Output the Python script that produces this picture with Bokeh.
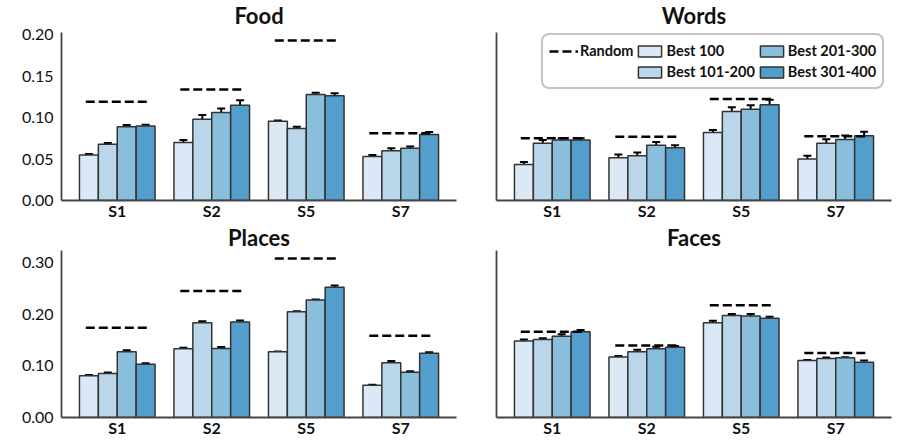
from bokeh.plotting import figure
from bokeh.layouts import column, row
from bokeh.models import (ColumnDataSource, FixedTicker, NumeralTickFormatter, Range1d,
                          Whisker, TeeHead, Legend, LegendItem, Label)
from bokeh.embed import file_html
from bokeh.resources import INLINE

subjects = ["S1", "S2", "S5", "S7"]
groups = ["Best 100", "Best 101-200", "Best 201-300", "Best 301-400"]
colors = ["#dbe9f6", "#bad6eb", "#89bedc", "#539ecd"]

food_random = [0.119, 0.134, 0.193, 0.081]
food_vals = [[0.055, 0.070, 0.0955, 0.053],
             [0.068, 0.098, 0.087, 0.060],
             [0.089, 0.106, 0.128, 0.063],
             [0.090, 0.115, 0.1265, 0.0795]]
food_err = [[0.001, 0.003, 0.001, 0.002],
            [0.0015, 0.005, 0.002, 0.003],
            [0.002, 0.005, 0.002, 0.002],
            [0.0015, 0.006, 0.003, 0.003]]

words_random = [0.075, 0.077, 0.1225, 0.0775]
words_vals = [[0.0435, 0.0515, 0.082, 0.050],
              [0.069, 0.054, 0.1075, 0.069],
              [0.073, 0.0665, 0.110, 0.0735],
              [0.073, 0.0635, 0.1155, 0.078]]
words_err = [[0.003, 0.004, 0.003, 0.004],
             [0.004, 0.004, 0.005, 0.005],
             [0.002, 0.004, 0.005, 0.005],
             [0.002, 0.003, 0.006, 0.005]]

places_random = [0.1735, 0.2445, 0.3075, 0.158]
places_vals = [[0.0805, 0.133, 0.127, 0.0625],
               [0.085, 0.183, 0.2045, 0.106],
               [0.127, 0.1335, 0.227, 0.0875],
               [0.103, 0.1845, 0.252, 0.124]]
places_err = [[0.0015, 0.002, 0.0005, 0.001],
              [0.002, 0.003, 0.001, 0.003],
              [0.003, 0.003, 0.001, 0.002],
              [0.002, 0.003, 0.003, 0.002]]

faces_random = [0.166, 0.139, 0.217, 0.1245]
faces_vals = [[0.148, 0.117, 0.183, 0.110],
              [0.151, 0.127, 0.197, 0.114],
              [0.157, 0.133, 0.196, 0.1155],
              [0.166, 0.136, 0.192, 0.107]]
faces_err = [[0.003, 0.002, 0.004, 0.001],
             [0.002, 0.004, 0.003, 0.002],
             [0.004, 0.004, 0.004, 0.001],
             [0.003, 0.002, 0.003, 0.003]]

top_ticks = [0.0, 0.05, 0.10, 0.15, 0.20]
bottom_ticks = [0.0, 0.10, 0.20, 0.30]

FONT = "Lato"
BAR_W = 0.2
offsets = [-0.3, -0.1, 0.1, 0.3]
X_LO, X_HI = -0.59, 3.59


def make_panel(title, rnd, vals, errs, ymax, yticks, show_ylabels, width, height,
               border_left, border_right, border_bottom, axis_px, title_px, legend=False):
    frame_h = height - border_bottom
    ytop = ymax * frame_h / axis_px  # frame extends above the axis to hold the title
    p = figure(width=width, height=height, output_backend="svg", toolbar_location=None,
               x_range=Range1d(X_LO, X_HI), y_range=Range1d(0, ytop),
               min_border_left=border_left, min_border_right=border_right,
               min_border_top=0, min_border_bottom=border_bottom)
    p.add_layout(Label(x=(X_LO + X_HI) / 2, y=frame_h - title_px, y_units="screen", text=title,
                       text_align="center", text_baseline="middle", text_font=FONT,
                       text_font_size="22px", text_font_style="bold", text_color="#111111"))
    p.outline_line_color = None
    p.xgrid.visible = False
    p.ygrid.visible = False

    bar_renderers = []
    for g in range(4):
        xs = [i + offsets[g] for i in range(len(subjects))]
        src = ColumnDataSource(dict(x=xs, top=vals[g],
                                    upper=[v + e for v, e in zip(vals[g], errs[g])],
                                    lower=[v - e for v, e in zip(vals[g], errs[g])]))
        r = p.vbar(x="x", top="top", width=BAR_W, bottom=0, source=src,
                   fill_color=colors[g], line_color="#333333", line_width=1.5)
        bar_renderers.append(r)
        w = Whisker(source=src, base="x", upper="upper", lower="lower",
                    line_color="black", line_width=2,
                    upper_head=TeeHead(size=8, line_color="black", line_width=2),
                    lower_head=TeeHead(size=8, line_color="black", line_width=2))
        p.add_layout(w)

    rsrc = ColumnDataSource(dict(x0=[i - 0.333 for i in range(len(subjects))],
                                 x1=[i + 0.335 for i in range(len(subjects))],
                                 y=rnd))
    rr = p.segment(x0="x0", x1="x1", y0="y", y1="y", source=rsrc, line_color="black",
                   line_width=2.5, line_dash="9 4")

    p.xaxis.ticker = FixedTicker(ticks=list(range(len(subjects))))
    p.xaxis.major_label_overrides = {i: s for i, s in enumerate(subjects)}
    p.xaxis.major_label_text_font = FONT
    p.xaxis.major_label_text_font_style = "bold"
    p.xaxis.major_label_text_font_size = "16px"
    p.xaxis.major_label_text_color = "#111111"
    p.xaxis.major_label_standoff = 0
    for ax in (p.xaxis, p.yaxis):
        ax.axis_line_color = "#444444"
        ax.axis_line_width = 1.8
        ax.major_tick_line_color = None
        ax.minor_tick_line_color = None
        ax.major_tick_out = 0
        ax.major_tick_in = 0
        ax.minor_tick_out = 0
        ax.minor_tick_in = 0
    p.yaxis.bounds = (0, ymax)
    if show_ylabels:
        p.yaxis.ticker = FixedTicker(ticks=yticks)
        p.yaxis.formatter = NumeralTickFormatter(format="0.00")
        p.yaxis.major_label_text_font = FONT
        p.yaxis.major_label_text_font_size = "16px"
        p.yaxis.major_label_text_color = "#111111"
        p.yaxis.major_label_standoff = 8
    else:
        p.yaxis.ticker = FixedTicker(ticks=[])

    if legend:
        dummy = p.scatter(x=[], y=[], fill_alpha=0, line_alpha=0)
        items = [LegendItem(label="Random", renderers=[rr]),
                 LegendItem(label=" ", renderers=[dummy])]
        for g in range(4):
            items.append(LegendItem(label=groups[g], renderers=[bar_renderers[g]]))
        lg = Legend(items=items, orientation="vertical", nrows=2,
                    location=(45, 111))
        lg.label_text_font = FONT
        lg.label_text_font_style = "bold"
        lg.label_text_font_size = "14.5px"
        lg.label_text_color = "#111111"
        lg.glyph_width = 29
        lg.glyph_height = 14
        lg.label_height = 19
        lg.label_standoff = 2
        lg.spacing = 2
        lg.padding = 6
        lg.margin = 0
        lg.border_line_color = "#888888"
        lg.border_line_width = 2
        lg.border_radius = 8
        lg.background_fill_color = "white"
        lg.background_fill_alpha = 1
        p.add_layout(lg, "center")
    return p


top_max = max(food_random + words_random) * 1.05
bot_max = max(places_random + faces_random) * 1.05

p1 = make_panel("Food", food_random, food_vals, food_err, top_max, top_ticks, True, 467, 223, 61, 11, 23, 168, 15)
p2 = make_panel("Words", words_random, words_vals, words_err, top_max, top_ticks, False, 442, 223, 29, 18, 23, 168, 15, legend=True)
p3 = make_panel("Places", places_random, places_vals, places_err, bot_max, bottom_ticks, True, 467, 220, 61, 11, 26, 167, 13.5)
p4 = make_panel("Faces", faces_random, faces_vals, faces_err, bot_max, bottom_ticks, False, 442, 220, 29, 18, 26, 167, 13.5)

layout = column(row(p1, p2), row(p3, p4))
open("out.html", "w").write(file_html(layout, INLINE))
